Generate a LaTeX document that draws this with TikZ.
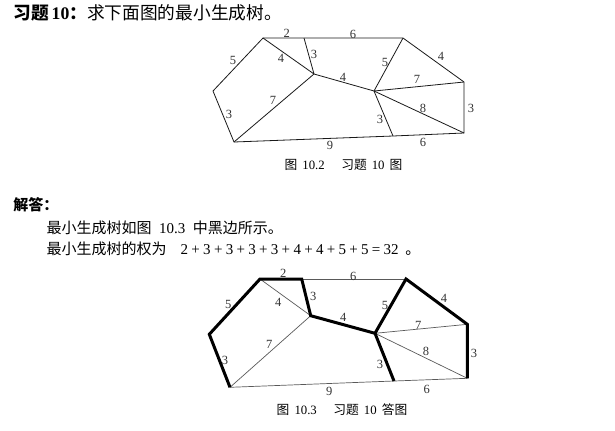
\documentclass[tikz,border=0pt]{standalone}
\usepackage{fontspec}
\setmainfont{Liberation Serif}
\newfontfamily\cjk{Noto Sans CJK SC}
\newcommand\zh[1]{{\cjk #1}}
\newcommand\op[1]{\kern0.22em#1\kern0.22em}
\begin{document}
\begin{tikzpicture}[x=1bp,y=-1bp,
  every node/.style={inner sep=0pt, outer sep=0pt},
  txt/.style={anchor=base west, font=\fontsize{15bp}{18bp}\selectfont},
  captext/.style={anchor=base, font=\fontsize{12.75bp}{15bp}\selectfont},
  lbl/.style={font=\fontsize{12.5bp}{14bp}\selectfont, text=black!80},
  e1/.style={line width=0.8bp, draw=black!90, line join=miter},
  e2/.style={line width=0.7bp, draw=black!65},
  tree/.style={line width=3bp, draw=black, line join=miter, line cap=butt}
]
\useasboundingbox (0,0) rectangle (615,430);

% ---------- texts ----------
\node[anchor=base west, font=\fontsize{17.7bp}{20bp}\selectfont] (title) at (13.3,19.5)
  {{\bfseries\zh{习题}\kern3bp 10\zh{：}}\zh{求下面图的最小生成树。}};
\node[txt, font=\fontsize{15bp}{18bp}\selectfont\bfseries] (ans) at (13.3,210.7) {\zh{解答：}};
\node[txt] (line1) at (46.7,233.4) {\zh{最小生成树如图}\hspace{0.5em}10.3\hspace{0.5em}\zh{中黑边所示。}};
\node[txt] (line2) at (46.7,254) {\zh{最小生成树的权为}\kern14bp
  2\op+3\op+3\op+3\op+3\op+4\op+4\op+5\op+5\op=32\hspace{0.45em}\zh{。}};
\node[captext] (cap1) at (343.5,169.8) {\zh{图}\hspace{0.4em}10.2\hspace{1.3em}\zh{习题}\hspace{0.4em}10\hspace{0.4em}\zh{图}};
\node[captext] (cap2) at (342,414.8) {\zh{图}\hspace{0.4em}10.3\hspace{1.3em}\zh{习题}\hspace{0.4em}10\hspace{0.4em}\zh{答图}};

% ---------- figure 10.2 ----------
\coordinate (A1) at (263,38);
\coordinate (B1) at (304,38);
\coordinate (C1) at (403,38);
\coordinate (D1) at (213,91);
\coordinate (E1) at (314,74);
\coordinate (F1) at (374,91);
\coordinate (G1) at (464,82);
\coordinate (H1) at (464,133);
\coordinate (I1) at (393,136);
\coordinate (J1) at (234,142);

\draw[e1] (D1) -- (A1) -- (B1) -- (C1) -- (G1) -- (H1) -- (I1) -- (J1) -- cycle;
\draw[e1] (A1) -- (E1);
\draw[e1] (B1) -- (E1);
\draw[e1] (E1) -- (J1);
\draw[e1] (E1) -- (F1);
\draw[e1] (C1) -- (F1);
\draw[e1] (F1) -- (G1);
\draw[e1] (F1) -- (H1);
\draw[e1] (F1) -- (I1);

\node[lbl] (l1ab) at (286.7,33.3) {2};
\node[lbl] (l1bc) at (353,34) {6};
\node[lbl] (l1ad) at (233,60) {5};
\node[lbl] (l1ae) at (281,58) {4};
\node[lbl] (l1be) at (314,54) {3};
\node[lbl] (l1ef) at (343,77) {4};
\node[lbl] (l1cf) at (385,62) {5};
\node[lbl] (l1cg) at (441,56) {4};
\node[lbl] (l1fg) at (417,79) {7};
\node[lbl] (l1fh) at (423,108) {8};
\node[lbl] (l1gh) at (471,108) {3};
\node[lbl] (l1fi) at (380,119) {3};
\node[lbl] (l1ih) at (423,142) {6};
\node[lbl] (l1ji) at (330,145) {9};
\node[lbl] (l1dj) at (229,114) {3};
\node[lbl] (l1ej) at (273,100) {7};

% ---------- figure 10.3 ----------
\coordinate (A2) at (260,279);
\coordinate (B2) at (301.7,279);
\coordinate (C2) at (406,279);
\coordinate (D2) at (209.3,334.3);
\coordinate (E2) at (310.7,315.7);
\coordinate (F2) at (375,333.3);
\coordinate (G2) at (467.3,324.3);
\coordinate (H2) at (467.3,378.3);
\coordinate (I2) at (394,381);
\coordinate (J2) at (230,387.3);

\draw[e2] (B2) -- (C2);
\draw[e2] (A2) -- (E2);
\draw[e2] (E2) -- (J2);
\draw[e2] (F2) -- (G2);
\draw[e2] (F2) -- (H2);
\draw[e2] (I2) -- (H2);
\draw[e2] (J2) -- (I2);
\draw[tree] (J2) -- (D2) -- (A2) -- (B2) -- (E2) -- (F2) -- (I2);
\draw[tree] (F2) -- (C2) -- (G2) -- (H2);

\node[lbl] (l2ab) at (283.3,273.3) {2};
\node[lbl] (l2bc) at (353.3,276) {6};
\node[lbl] (l2ad) at (228.3,304.3) {5};
\node[lbl] (l2ae) at (278.3,302.3) {4};
\node[lbl] (l2be) at (313.3,296.7) {3};
\node[lbl] (l2ef) at (343.3,317.7) {4};
\node[lbl] (l2cf) at (385,305) {5};
\node[lbl] (l2cg) at (444,298.3) {4};
\node[lbl] (l2fg) at (418.3,325) {7};
\node[lbl] (l2fh) at (426,351.7) {8};
\node[lbl] (l2gh) at (474,353.3) {3};
\node[lbl] (l2fi) at (380,364) {3};
\node[lbl] (l2ih) at (426.7,389.3) {6};
\node[lbl] (l2ji) at (329.3,391) {9};
\node[lbl] (l2dj) at (225,360.7) {3};
\node[lbl] (l2ej) at (269.3,344.3) {7};
\end{tikzpicture}
\end{document}
